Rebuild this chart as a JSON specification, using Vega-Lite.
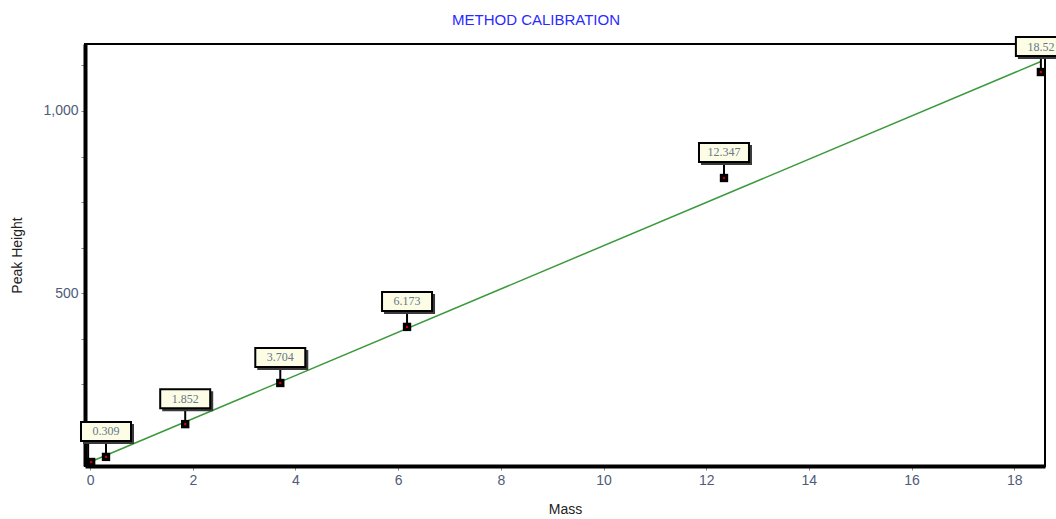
{
  "$schema": "https://vega.github.io/schema/vega-lite/v6.json",
  "width": 960,
  "height": 422,
  "autosize": {"type": "none"},
  "padding": {"left": 85, "top": 44, "right": 11, "bottom": 53},
  "background": "white",
  "title": {
    "text": "METHOD CALIBRATION",
    "color": "#2a2aff",
    "font": "Liberation Sans",
    "fontSize": 15,
    "fontWeight": "normal",
    "anchor": "middle",
    "dx": -29,
    "offset": 8
  },
  "config": {
    "view": {"stroke": "black", "strokeWidth": 2},
    "axis": {
      "labelFont": "Liberation Sans",
      "labelFontSize": 14,
      "labelColor": "#4f5b78",
      "titleFont": "Liberation Sans",
      "titleFontSize": 14,
      "titleFontWeight": "normal",
      "titleColor": "#222222",
      "domainColor": "black",
      "domainWidth": 4,
      "tickColor": "#888888",
      "tickSize": 4,
      "grid": false
    }
  },
  "data": {
    "values": [
      {"mass": 0.02, "height": 36, "label": ""},
      {"mass": 0.309, "height": 50, "label": "0.309"},
      {"mass": 1.852, "height": 140, "label": "1.852"},
      {"mass": 3.704, "height": 253, "label": "3.704"},
      {"mass": 6.173, "height": 407, "label": "6.173"},
      {"mass": 12.347, "height": 816, "label": "12.347"},
      {"mass": 18.52, "height": 1107, "label": "18.52"}
    ]
  },
  "encoding": {
    "x": {
      "field": "mass",
      "type": "quantitative",
      "scale": {"domain": [-0.1, 18.6], "nice": false, "zero": false},
      "axis": {"title": "Mass", "values": [0, 2, 4, 6, 8, 10, 12, 14, 16, 18], "labelPadding": 3, "titlePadding": 15, "labelFlush": false}
    },
    "y": {
      "field": "height",
      "type": "quantitative",
      "scale": {"domain": [25, 1184], "nice": false, "zero": false},
      "axis": {
        "title": "Peak Height",
        "values": [125, 250, 375, 500, 625, 750, 875, 1000, 1125],
        "labelExpr": "datum.value % 500 === 0 ? format(datum.value, ',') : ''",
        "labelPadding": 3,
        "titlePadding": 18
      }
    }
  },
  "layer": [
    {
      "data": {"values": [{"mass": 0, "height": 36}, {"mass": 18.52, "height": 1136}]},
      "mark": {"type": "line", "color": "#3c9a3c", "strokeWidth": 1.5, "clip": false}
    },
    {
      "transform": [{"filter": "datum.label !== ''"}],
      "mark": {"type": "rule", "color": "black", "strokeWidth": 2, "y2Offset": -16},
      "encoding": {"y2": {"field": "height"}}
    },
    {
      "data": {"values": [{"mass": 0.0, "height": 36}]},
      "mark": {"type": "rule", "color": "black", "strokeWidth": 2, "y2Offset": -20, "xOffset": -2},
      "encoding": {"y2": {"field": "height"}}
    },
    {
      "transform": [{"filter": "datum.label !== ''"}],
      "mark": {"type": "rect", "color": "#3a3a3a", "xOffset": -23, "x2Offset": 28, "yOffset": -33, "y2Offset": -13},
      "encoding": {"x2": {"field": "mass"}, "y2": {"field": "height"}}
    },
    {
      "transform": [{"filter": "datum.label !== ''"}],
      "mark": {"type": "rect", "fill": "#fdfde6", "stroke": "black", "strokeWidth": 2, "xOffset": -25, "x2Offset": 25, "yOffset": -35, "y2Offset": -16},
      "encoding": {"x2": {"field": "mass"}, "y2": {"field": "height"}}
    },
    {
      "transform": [{"filter": "datum.label !== ''"}],
      "mark": {"type": "text", "font": "Liberation Serif", "fontSize": 12, "color": "#66778a", "baseline": "middle", "align": "center", "dy": -25.5},
      "encoding": {"text": {"field": "label"}}
    },
    {
      "mark": {"type": "square", "color": "black", "filled": true, "opacity": 1, "size": 70, "clip": false}
    },
    {
      "mark": {"type": "square", "color": "#cc0000", "filled": true, "opacity": 1, "size": 5, "clip": false}
    }
  ]
}
